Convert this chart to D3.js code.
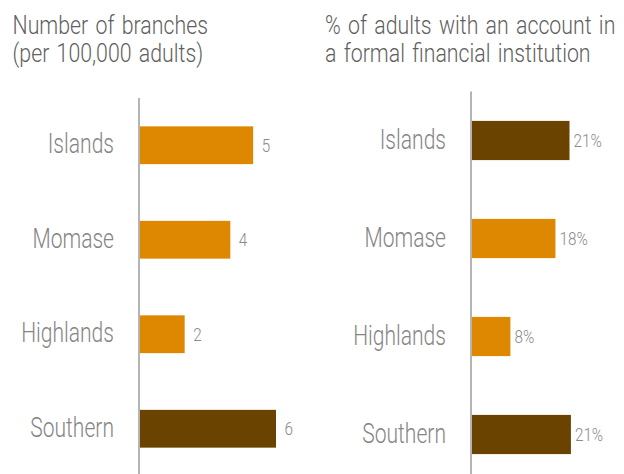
<!DOCTYPE html>
<html><head><meta charset="utf-8">
<script src="https://cdn.jsdelivr.net/npm/d3@7"></script>
<style>body{margin:0;background:#fff;} svg{display:block;}</style>
</head><body>
<svg id="c" width="624" height="474"></svg>
<script>
const categories = ["Islands", "Momase", "Highlands", "Southern"];
const branchValues = [5, 4, 2, 6];
const branchLabels = ["5", "4", "2", "6"];
const accountValues = [21, 18, 8.4, 21.3];
const accountLabels = ["21%", "18%", "8%", "21%"];
const branchColors = ["#DD8800", "#DD8800", "#DD8800", "#6B4300"];
const accountColors = ["#6B4300", "#DD8800", "#DD8800", "#6B4300"];
const titleLeft = ["Number of branches", "(per 100,000 adults)"];
const titleRight = ["% of adults with an account in", "a formal financial institution"];

const svg = d3.select("#c");
const FONT = "Roboto, 'Liberation Sans', sans-serif";

function squeezedText(g, x, y, txt, opts) {
  const t = g.append("g").attr("transform", `translate(${x},${y}) scale(${opts.sx},1)`)
    .append("text")
    .attr("x", 0).attr("y", 0)
    .attr("text-anchor", opts.anchor || "start")
    .attr("font-family", FONT)
    .attr("font-weight", 300)
    .attr("font-size", opts.size)
    .attr("fill", opts.fill)
    .text(txt);
  if (opts.ws) t.attr("word-spacing", opts.ws);
  return t;
}

function panel(cfg) {
  const g = svg.append("g");
  const y = d3.scaleBand().domain(categories).range(cfg.yRange).paddingInner(0.6).paddingOuter(0.3);
  const x = d3.scaleLinear().domain(cfg.xDomain).range(cfg.xRange);

  cfg.title.forEach((line, i) => squeezedText(g, cfg.titleX, 33.5 + i * 28, line,
    {size: 26, fill: "#5f5f5f", sx: 0.82, ws: 2.5}));

  g.selectAll("rect.bar").data(categories).join("rect")
    .attr("class", "bar")
    .attr("x", x(0) + 1)
    .attr("y", d => y(d))
    .attr("width", (d, i) => x(cfg.values[i]) - x(0) - 1)
    .attr("height", y.bandwidth())
    .attr("fill", (d, i) => cfg.colors[i]);

  g.append("line")
    .attr("x1", x(0)).attr("x2", x(0))
    .attr("y1", cfg.yRange[0]).attr("y2", 474)
    .attr("stroke", "#b4b4b4").attr("stroke-width", 2);

  categories.forEach((c, i) => {
    squeezedText(g, x(0) - 25, y(c) + y.bandwidth() / 2 + 8, c, {size: 27, fill: "#858585", anchor: "end", sx: 0.78});
    squeezedText(g, x(cfg.values[i]) + cfg.gap, y(c) + y.bandwidth() / 2 + 6.5, cfg.labels[i], {size: 18, fill: "#8a8a8a", sx: 0.85});
  });
}

panel({title: titleLeft, titleX: 12.5, yRange: [98, 476], xDomain: [0, 6], xRange: [139, 276],
       values: branchValues, labels: branchLabels, colors: branchColors, gap: 8.5});
panel({title: titleRight, titleX: 325, yRange: [91.5, 483.5], xDomain: [0, 21], xRange: [471, 569.5],
       values: accountValues, labels: accountLabels, colors: accountColors, gap: 4});
</script>
</body></html>
